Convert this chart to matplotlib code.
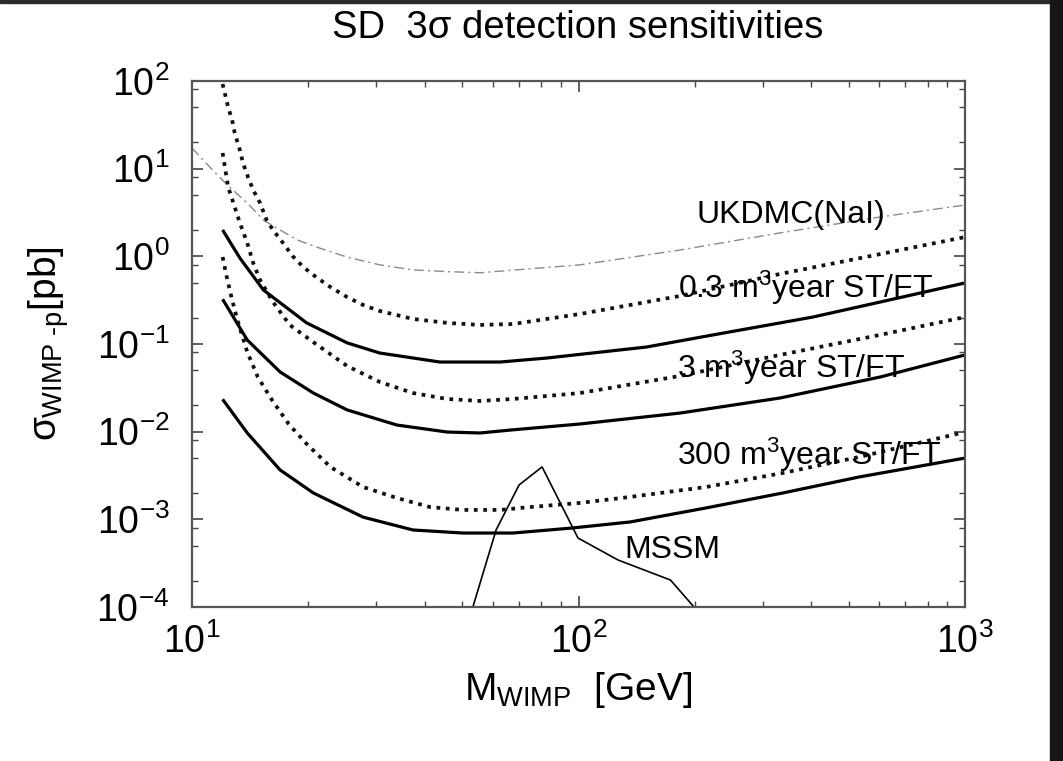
import matplotlib
matplotlib.use("Agg")
import matplotlib.pyplot as plt
from matplotlib.ticker import FixedLocator, LogFormatterSciNotation, NullFormatter
from matplotlib.patches import Rectangle

plt.rcParams['font.family'] = ['Liberation Sans', 'DejaVu Sans']
plt.rcParams['mathtext.fontset'] = 'custom'
plt.rcParams['mathtext.rm'] = 'Liberation Sans'
plt.rcParams['mathtext.it'] = 'Liberation Sans'
plt.rcParams['mathtext.sf'] = 'Liberation Sans'
plt.rcParams['axes.unicode_minus'] = False

# ---------------- data ----------------
# 0.3 m^3 year, solid
m_s03 = [12.0, 13.3, 15.3, 19.8, 25.2, 30.6, 43.8, 62.7, 82.9, 150, 223, 404, 603, 1000]
s_s03 = [2.0, 0.957, 0.413, 0.174, 0.103, 0.0789, 0.0623, 0.0623, 0.0692, 0.0924, 0.127, 0.203, 0.301, 0.497]
# 3 m^3 year, solid
m_s3 = [12.0, 13.9, 16.9, 20.6, 25.2, 33.9, 45.7, 55.6, 67.7, 101, 183, 332, 603, 1000]
s_s3 = [0.324, 0.111, 0.048, 0.0276, 0.0177, 0.0119, 0.00991, 0.00966, 0.0105, 0.01224, 0.0163, 0.0242, 0.042, 0.075]
# 300 m^3 year, solid
m_s300 = [12.0, 13.9, 16.9, 20.6, 27.7, 37.3, 50.2, 67.7, 96.2, 136, 214, 338, 532, 1000]
s_s300 = [0.0234, 0.00966, 0.00366, 0.0020, 0.00106, 0.000756, 0.000698, 0.000698, 0.000796, 0.000933, 0.00135, 0.0020, 0.00304, 0.0050]
# 0.3 m^3 year, dotted
m_d03 = [12.0, 12.4, 12.7, 12.9, 13.3, 13.55, 13.96, 14.4, 15.0, 15.6, 16.2, 17.2, 18.2, 19.4, 21.1, 22.8, 25.2, 27.7, 30.6, 37.3, 45.7, 55.6, 67.7, 101, 183, 332, 603, 1000]
s_d03 = [92.4, 50.5, 35.9, 25.5, 16.3, 11.6, 8.04, 5.71, 4.06, 2.59, 2.0, 1.42, 1.01, 0.756, 0.566, 0.447, 0.343, 0.279, 0.238, 0.193, 0.174, 0.165, 0.169, 0.22, 0.353, 0.629, 1.06, 1.66]
# 3 m^3 year, dotted
m_d3 = [12.0, 12.2, 12.4, 12.9, 13.3, 13.9, 14.4, 15.0, 16.2, 17.9, 20.6, 25.2, 30.6, 37.3, 45.7, 55.6, 67.7, 101, 183, 332, 603, 1000]
s_d3 = [15.1, 9.66, 6.18, 3.65, 2.40, 1.42, 0.84, 0.537, 0.301, 0.165, 0.105, 0.0561, 0.0369, 0.0276, 0.0236, 0.0224, 0.0236, 0.0276, 0.0432, 0.075, 0.127, 0.203]
# 300 m^3 year, dotted
m_d300 = [12.0, 12.3, 12.7, 13.15, 13.9, 14.8, 16.1, 17.8, 19.8, 22.8, 27.7, 33.9, 41.3, 50.2, 62.7, 74.9, 101, 136, 214, 338, 532, 1000]
s_d300 = [0.983, 0.581, 0.318, 0.178, 0.081, 0.042, 0.023, 0.0122, 0.00724, 0.00396, 0.00234, 0.00175, 0.00138, 0.00128, 0.00128, 0.00138, 0.00154, 0.0018, 0.00234, 0.00338, 0.00514, 0.0099]
# UKDMC (NaI) limit
m_uk = [10.0, 11.3, 12.5, 13.9, 15.3, 16.9, 18.7, 21.4, 25.2, 30.6, 37.3, 45.7, 55.6, 101, 183, 332, 603, 1000]
s_uk = [17.2, 9.66, 6.18, 4.06, 2.59, 2.0, 1.54, 1.24, 0.98, 0.80, 0.70, 0.67, 0.65, 0.80, 1.18, 1.85, 2.81, 3.85]
# MSSM region outline
m_mssm = [53.3, 61.2, 70.2, 80.5, 99.7, 126.5, 173, 199]
s_mssm = [1.0e-4, 7.56e-4, 2.47e-3, 3.96e-3, 6.12e-4, 3.44e-4, 2.03e-4, 1.0e-4]

title = "SD  3\u03c3 detection sensitivities"
xlabel = r"M$_{\rm WIMP}$  [GeV]"
ylabel = r"$\sigma_{\rm WIMP\ \text{-}p}$[pb]"
curve_labels = ["UKDMC(NaI)", r"0.3 m$^3$year ST/FT", r"3 m$^3$year ST/FT", r"300 m$^3$year ST/FT", "MSSM"]

# ---------------- figure ----------------
fig = plt.figure(figsize=(10.63, 7.61), dpi=100)
fig.patch.set_facecolor('white')
ax = fig.add_axes([192/1063, 1-607/761, 773/1063, 526/761])

solid_kw = dict(color='black', lw=2.3, solid_capstyle='butt', solid_joinstyle='round')
dot_kw = dict(color='#111111', lw=2.7, linestyle=(0, (1, 1.5)), dash_capstyle='butt')

ax.plot(m_uk, s_uk, color='#8a8a8a', lw=1.0, linestyle=(0, (7, 3, 1.5, 3)))
ax.plot(m_d03, s_d03, **dot_kw)
ax.plot(m_d3, s_d3, **dot_kw)
ax.plot(m_d300, s_d300, **dot_kw)
ax.plot(m_s03, s_s03, **solid_kw)
ax.plot(m_s3, s_s3, **solid_kw)
ax.plot(m_s300, s_s300, **solid_kw)
ax.plot(m_mssm, s_mssm, color='black', lw=1.2)

ax.set_xscale('log')
ax.set_yscale('log')
ax.set_xlim(10, 1000)
ax.set_ylim(1e-4, 1e2)

ax.xaxis.set_minor_locator(FixedLocator([f * 10**e for e in (1, 2) for f in range(2, 10)]))
ax.yaxis.set_minor_locator(FixedLocator([f * 10.0**e for e in range(-4, 2) for f in (2, 5, 8)]))
ax.xaxis.set_minor_formatter(NullFormatter())
ax.yaxis.set_minor_formatter(NullFormatter())
ax.xaxis.set_major_formatter(LogFormatterSciNotation())
ax.yaxis.set_major_formatter(LogFormatterSciNotation())

ax.tick_params(which='both', direction='in', top=True, right=True, colors='#444444', labelcolor='black')
ax.tick_params(which='major', length=8, width=1.2, labelsize=27)
ax.tick_params(which='minor', length=4, width=1.0)
ax.tick_params(axis='x', which='major', pad=12)
ax.tick_params(axis='y', which='major', pad=16)
for sp in ax.spines.values():
    sp.set_color('#555555')
    sp.set_linewidth(1.6)

ax.set_xlabel(xlabel, fontsize=28, labelpad=6)
ax.set_ylabel(ylabel, fontsize=28, labelpad=18)
fig.text(578/1063, 1 - 28/761, title, fontsize=27.5, ha='center', va='center')

label_pos = [(0.653, 0.730), (0.629, 0.587), (0.628, 0.435), (0.628, 0.270), (0.559, 0.093)]
for txt, (fx, fy) in zip(curve_labels, label_pos):
    ax.text(fx, fy, txt, transform=ax.transAxes, fontsize=23, ha='left', va='baseline')

# dark frame of the screenshot
fig.patches.append(Rectangle((0, 1 - 3/761), 1, 3/761, transform=fig.transFigure, color='#2a2a2a', zorder=10))
fig.patches.append(Rectangle((1050/1063, 0), 13/1063, 1, transform=fig.transFigure, color='#161616', zorder=10))

fig.savefig('out.png', dpi=100)
